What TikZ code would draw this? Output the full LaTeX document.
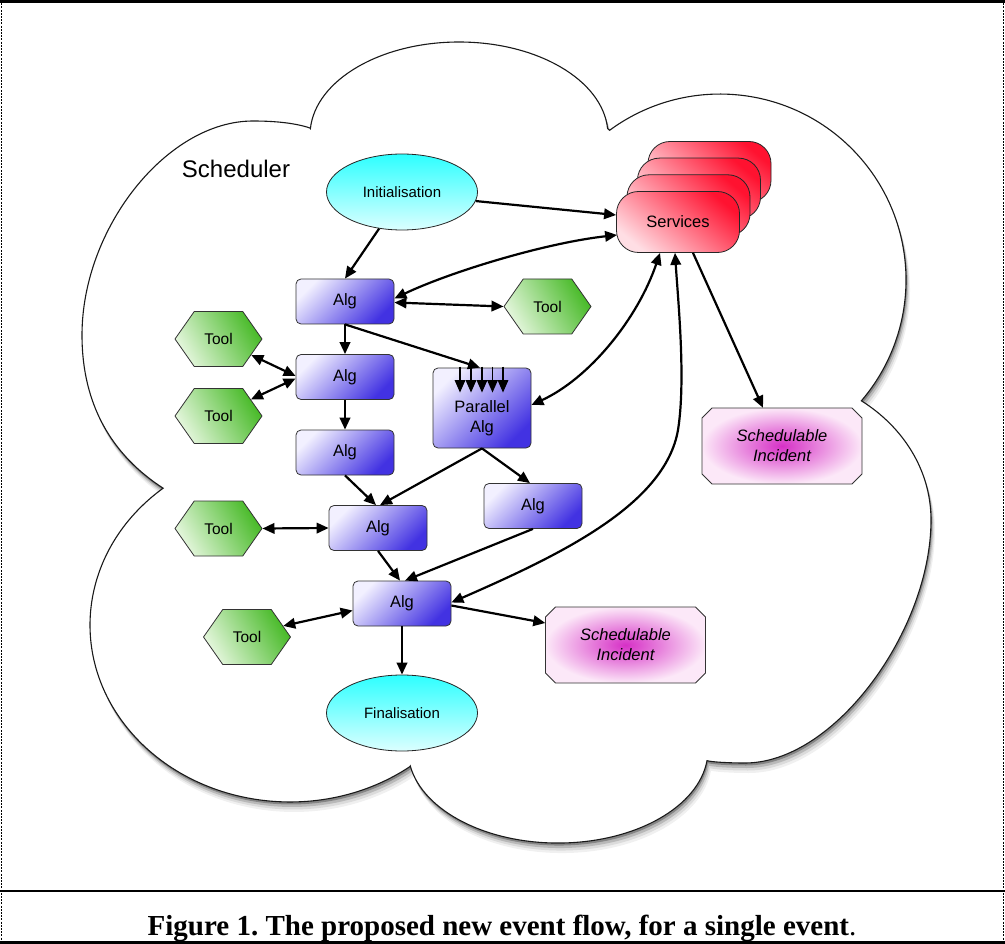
\documentclass[tikz,border=0pt]{standalone}
\usepackage{fontspec}
\setmainfont{Liberation Serif}
\newfontfamily\arialf{Liberation Sans}
\usetikzlibrary{shapes.geometric,shapes.symbols,arrows.meta,calc}
\frenchspacing
\definecolor{algLight}{RGB}{242,240,255}
\definecolor{algDark}{RGB}{66,50,226}
\definecolor{toolLight}{RGB}{228,246,220}
\definecolor{toolDark}{RGB}{72,186,40}
\definecolor{initTop}{RGB}{45,255,255}
\definecolor{initBottom}{RGB}{220,255,255}
\definecolor{servRed}{RGB}{255,18,48}
\definecolor{servLight}{RGB}{255,222,228}
\definecolor{siMid}{RGB}{214,48,198}
\definecolor{siEdge}{RGB}{252,232,248}
\def\cloudp#1#2{({#1+310.4},{#2+128.5})
 .. controls ({#1+315.9},{#2+79.8}) and ({#1+380.8},{#2+42}) .. ({#1+459},{#2+42})
 .. controls ({#1+537.2},{#2+42}) and ({#1+602.1},{#2+79.8}) .. ({#1+607.6},{#2+128.5})
 -- ({#1+609.6},{#2+130.3})
 .. controls ({#1+685.7},{#2+74.3}) and ({#1+791.8},{#2+84.1}) .. ({#1+856.2},{#2+153.3})
 .. controls ({#1+920.6},{#2+222.5}) and ({#1+922.8},{#2+328.9}) .. ({#1+861.4},{#2+400.8})
 .. controls ({#1+903},{#2+427}) and ({#1+931},{#2+470}) .. ({#1+931},{#2+520})
 .. controls ({#1+931},{#2+630}) and ({#1+835},{#2+763}) .. ({#1+745},{#2+763})
 .. controls ({#1+728},{#2+763}) and ({#1+712},{#2+762}) .. ({#1+707},{#2+760.7})
 .. controls ({#1+698.4},{#2+806.6}) and ({#1+637},{#2+841.6}) .. ({#1+562.5},{#2+843})
 .. controls ({#1+488},{#2+844.4}) and ({#1+423.2},{#2+811.6}) .. ({#1+410.3},{#2+766.1})
 -- ({#1+410.1},{#2+766.5})
 .. controls ({#1+323.1},{#2+824.3}) and ({#1+199.9},{#2+810}) .. ({#1+132.7},{#2+734.3})
 .. controls ({#1+65.5},{#2+658.6}) and ({#1+79.1},{#2+549.3}) .. ({#1+163.1},{#2+488.2})
 .. controls ({#1+112},{#2+455}) and ({#1+82},{#2+405}) .. ({#1+82},{#2+335})
 .. controls ({#1+82},{#2+228}) and ({#1+167},{#2+121}) .. ({#1+253},{#2+121})
 .. controls ({#1+275},{#2+121}) and ({#1+295},{#2+123}) .. ({#1+310},{#2+128}) -- cycle}
\def\sibg#1#2{\shade[inner color=siMid,outer color=siEdge,draw=black!80,line width=0.8pt]
 ({#1-80},{#2-28}) -- ({#1-70},{#2-38}) -- ({#1+70},{#2-38}) -- ({#1+80},{#2-28})
 -- ({#1+80},{#2+28}) -- ({#1+70},{#2+38}) -- ({#1-70},{#2+38}) -- ({#1-80},{#2+28}) -- cycle;}
\begin{document}
\begin{tikzpicture}[x=1pt,y=-1pt,
  arr/.style={line width=2.2pt,-{Triangle[length=12pt,width=10.5pt]}},
  darr/.style={line width=2.2pt,{Triangle[length=12pt,width=10.5pt]}-{Triangle[length=12pt,width=10.5pt]}},
  parr/.style={line width=1.6pt,-{Triangle[length=12.5pt,width=10.5pt]}},
  algbox/.style={rectangle,rounded corners=5pt,draw=black!80,line width=0.8pt,minimum width=98pt,minimum height=45pt,inner sep=0pt,top color=algLight,bottom color=algDark,shading angle=45,font=\arialf\fontsize{16.5}{20}\selectfont},
  toolhex/.style={signal,signal to=east and west,signal pointer angle=110,draw=black!80,line width=0.8pt,minimum width=87pt,minimum height=55pt,inner sep=0pt,top color=toolDark,bottom color=toolLight,shading angle=-60,font=\arialf\fontsize{15.5}{18}\selectfont},
  ellnode/.style={ellipse,draw=black!85,line width=0.8pt,minimum width=151pt,minimum height=76pt,inner sep=0pt,top color=initTop,bottom color=initBottom,font=\arialf\fontsize{15}{18}\selectfont},
  servbox/.style={rectangle,rounded corners=22pt,draw=black!85,line width=0.8pt,minimum width=123pt,minimum height=61pt,inner sep=0pt,top color=servRed,bottom color=servLight,shading angle=-40,font=\arialf\fontsize{16.5}{20}\selectfont},
  sitext/.style={rectangle,minimum width=160pt,minimum height=76pt,inner sep=0pt,align=center,font=\arialf\itshape\fontsize{16.5}{20}\selectfont}
]
\useasboundingbox (0,0) rectangle (1005,944);
% frame
\draw[line width=2.5pt] (0,1.5) -- (1005,1.5);
\draw[line width=1pt,dash pattern=on 2pt off 1.2pt] (1.5,0) -- (1.5,944);
\draw[line width=1pt,dash pattern=on 2pt off 1.2pt] (1003.5,0) -- (1003.5,944);
\draw[line width=2pt] (0,890.5) -- (1005,890.5);
\draw[line width=3pt] (0,942) -- (1005,942);
% cloud with soft shadow
\fill[black!6] \cloudp{4}{10};
\fill[black!14] \cloudp{3}{7.5};
\fill[black!28] \cloudp{2}{5};
\fill[black!48] \cloudp{1}{2.5};
\filldraw[fill=white,draw=black!90,line width=1.1pt] \cloudp{0}{0};
\node[font=\arialf\fontsize{24}{28}\selectfont] (sched) at (236,169) {Scheduler};
% nodes
\node[ellnode] (init) at (402,192) {Initialisation};
\node[ellnode] (fin) at (402,713) {Finalisation};
\node[servbox] (serv4) at (709.5,172) {};
\node[servbox] (serv3) at (699,188.6) {};
\node[servbox] (serv2) at (688.5,205.3) {};
\node[servbox] (serv) at (678,222) {Services};
\node[algbox] (alg1) at (345,301.5) {Alg};
\node[algbox] (alg2) at (345,377) {Alg};
\node[algbox] (alg3) at (345,452.5) {Alg};
\node[algbox] (alg4) at (378,528) {Alg};
\node[algbox] (alg5) at (402,603.5) {Alg};
\node[algbox] (alg6) at (533,506) {Alg};
\node[algbox,minimum height=80pt] (par) at (482,408) {};
\node[align=center,font=\arialf\fontsize{16.5}{20}\selectfont] (partxt) at (482,418) {Parallel\\Alg};
\node[toolhex] (tool1) at (547.5,306.5) {Tool};
\node[toolhex] (tool2) at (218.5,339) {Tool};
\node[toolhex] (tool3) at (218.5,416) {Tool};
\node[toolhex] (tool4) at (218.5,528.5) {Tool};
\node[toolhex] (tool5) at (247,637) {Tool};
\sibg{782}{446}
\node[sitext] (si1) at (782,446) {Schedulable\\Incident};
\sibg{625.5}{645}
\node[sitext] (si2) at (625.5,645) {Schedulable\\Incident};
\coordinate (bend) at (678,430);
% connectors
\draw[arr] (init.238) -- (alg1.north);
\draw[arr] (init.-7) -- ($(serv.west)+(0,-7)$);
\draw[darr] ($(alg1.east)+(0,-3)$) .. controls (450,272) and (545,243) .. ($(serv.west)+(1,13)$);
\draw[darr] ($(alg1.east)+(0,1)$) -- (tool1.west);
\draw[arr] (alg1.south) -- (alg2.north);
\draw[arr] (alg1.south) -- ($(par.north)+(-2,0)$);
\foreach \dx in {-22,-11,0,10.5,21}{\draw[parr] ($(par.north)+(\dx,-1)$) -- ($(par.north)+(\dx,25)$);}
\draw[darr] (tool2.-26) -- ($(alg2.west)+(0,-1)$);
\draw[darr] (tool3.27) -- ($(alg2.west)+(0,1.5)$);
\draw[arr] (alg2.south) -- (alg3.north);
\draw[arr] (alg3.south) -- ($(alg4.north)+(-2,0)$);
\draw[arr] (par.south) -- ($(alg4.north)+(2,0)$);
\draw[arr] (par.south) -- ($(alg6.north)+(-3,0)$);
\draw[darr] ($(serv.south)+(-18,0)$) .. controls (638,318) and (590,378) .. ($(par.east)+(0,-3)$);
\draw[darr] ($(alg5.east)+(0,-1)$) .. controls (560,555) and (665,505) .. (bend) .. controls (686,380) and (678,300) .. ($(serv.south)+(-3,0)$);
\draw[arr] (alg6.south) -- ($(alg5.north)+(3,0)$);
\draw[arr] (alg4.south) -- ($(alg5.north)+(-2,0)$);
\draw[darr] (tool4.east) -- (alg4.west);
\draw[darr] (tool5.17) -- ($(alg5.west)+(0,7)$);
\draw[arr] (alg5.south) -- (fin.north);
\draw[arr] ($(alg5.east)+(0,2)$) -- ($(si2.west)+(0,-22)$);
\draw[arr] ($(serv.south)+(15,0)$) -- ($(si1.north)+(-19,0)$);
% caption
\node[anchor=base,font=\bfseries\fontsize{29}{34}\selectfont] (cap) at (502,935) {Figure 1. The proposed new event flow, for a single event{\mdseries.}};
\end{tikzpicture}
\end{document}
